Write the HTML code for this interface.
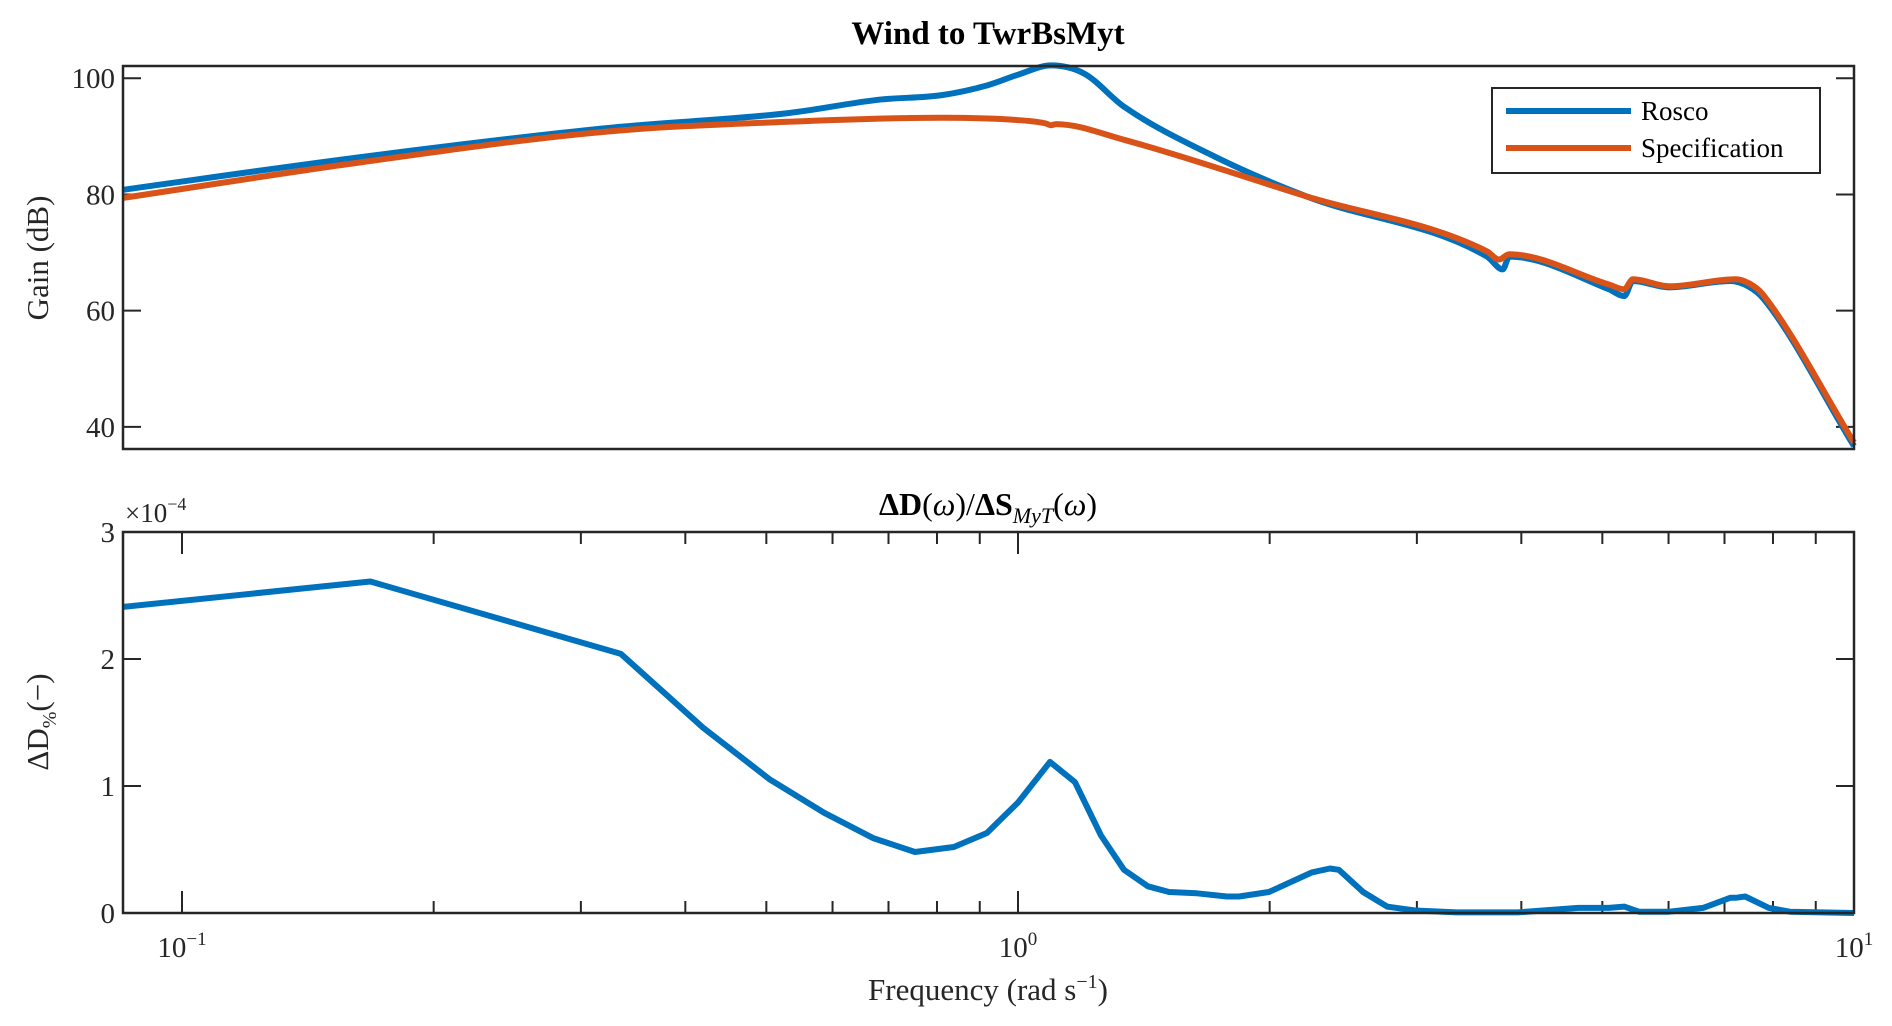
<!DOCTYPE html>
<html><head><meta charset="utf-8"><style>
html,body{margin:0;padding:0;background:#fff;}
svg{display:block;font-family:"Liberation Serif",serif;}
</style></head><body>
<svg id="fig" width="1892" height="1026" viewBox="0 0 1892 1026">
<rect width="1892" height="1026" fill="#fff"/>
<text x="988" y="44" text-anchor="middle" font-size="33" font-weight="bold" fill="#000">Wind to TwrBsMyt</text>
<text x="988" y="515" text-anchor="middle" font-size="32" fill="#000"><tspan font-weight="bold">ΔD</tspan>(<tspan font-style="italic">ω</tspan>)/<tspan font-weight="bold">ΔS</tspan><tspan font-style="italic" font-size="22" dy="8">MyT</tspan><tspan dy="-8">(</tspan><tspan font-style="italic">ω</tspan>)</text>
<text transform="translate(48,258) rotate(-90)" text-anchor="middle" font-size="31" fill="#262626">Gain (dB)</text>
<text transform="translate(48,722) rotate(-90)" text-anchor="middle" font-size="31" fill="#262626">ΔD<tspan font-size="20" dy="8">%</tspan><tspan dy="-8">(−)</tspan></text>
<text x="125" y="522" font-size="27" fill="#262626">×10<tspan font-size="18" dy="-12">−4</tspan></text>
<text x="988" y="1000" text-anchor="middle" font-size="31" fill="#262626">Frequency (rad s<tspan font-size="20" dy="-12">−1</tspan><tspan dy="12">)</tspan></text>
<g id="topax"></g><g id="botax"></g>
<g>
<rect x="1492" y="88" width="328" height="85" fill="#fff" stroke="#262626" stroke-width="2"/>
<line x1="1506" y1="111" x2="1631" y2="111" stroke="#0072BD" stroke-width="6"/>
<text x="1641" y="120" font-size="27" fill="#000">Rosco</text>
<line x1="1506" y1="148" x2="1631" y2="148" stroke="#D95319" stroke-width="6"/>
<text x="1641" y="157" font-size="27" fill="#000">Specification</text>
</g>
</svg>
<script>
const gainFreq=[0.085,0.165,0.321,0.531,0.682,0.811,0.92,1.0,1.095,1.2,1.339,1.72,2.21,3.64,3.8,3.87,5.09,5.31,5.44,6.01,7.11,7.47,7.8,10];
const roscoGain=[80.8,86.5,91.4,94.0,96.3,97.1,98.8,100.6,102.2,100.8,95.1,86.5,79.7,69.3,67.1,69.3,63.7,62.5,65.1,64.0,65.1,64.2,62.0,36.7];
const specFreq=[0.085,0.165,0.321,0.531,0.811,1.0,1.08,1.095,1.11,1.339,2.21,3.64,3.76,3.87,5.09,5.31,5.44,6.01,7.22,7.59,7.8,10];
const specGain=[79.4,85.6,90.8,92.5,93.2,92.8,92.2,91.9,92.1,89.4,79.7,70.2,68.8,69.7,64.5,63.7,65.4,64.2,65.4,64.2,62.6,37.3];
const dFreq=[0.085,0.168,0.335,0.42,0.505,0.586,0.671,0.753,0.838,0.918,1.0,1.092,1.17,1.257,1.339,1.43,1.516,1.637,1.778,1.838,1.996,2.247,2.361,2.42,2.587,2.764,2.985,3.35,3.96,4.68,5.09,5.31,5.53,6.01,6.6,7.11,7.22,7.41,7.91,8.38,10];
const dVal=[2.41,2.61,2.04,1.46,1.05,0.79,0.59,0.48,0.52,0.63,0.87,1.19,1.03,0.61,0.34,0.21,0.165,0.155,0.13,0.13,0.165,0.32,0.35,0.34,0.165,0.05,0.02,0.005,0.005,0.04,0.04,0.05,0.01,0.01,0.04,0.12,0.12,0.13,0.04,0.01,0.0];
const gainTicks=[40,60,80,100];
const dTicks=[0,1,2,3];
const NS='http://www.w3.org/2000/svg';
const L=123,R=1854,X0=1018,DEC=836;
function xs(f){return X0+Math.log10(f)*DEC;}
const T={top:66,bot:449,min:36.2,max:102.1};
function ysT(v){return T.bot-(v-T.min)/(T.max-T.min)*(T.bot-T.top);}
const B={top:532,bot:913};
function ysB(v){return B.bot-v/3*(B.bot-B.top);}
function el(tag,attrs,parent){const e=document.createElementNS(NS,tag);for(const k in attrs)e.setAttribute(k,attrs[k]);parent.appendChild(e);return e;}
const gTopAx=document.getElementById('topax'),gBotAx=document.getElementById('botax');
gainTicks.forEach(v=>{const y=ysT(v);
 const t=el('line',{x1:L,y1:y,x2:L+18,y2:y,stroke:'#262626','stroke-width':2},gTopAx);
 
 
 el('line',{x1:R,y1:y,x2:R-18,y2:y,stroke:'#262626','stroke-width':2},gTopAx);
 const tx=el('text',{x:L-8,y:y+10,'text-anchor':'end','font-size':29,fill:'#262626'},gTopAx);
 tx.textContent=v;
 
 
});
function line(fr,vals,ys,color,parent,name){
 const p=el('polyline',{points:fr.map((f,i)=>xs(f).toFixed(1)+','+ys(vals[i]).toFixed(1)).join(' '),fill:'none',stroke:color,'stroke-width':6,'stroke-linejoin':'round'},parent);
 
 
}
function smooth(fr,vals,ys,color,parent,name){
 const X=fr.map(xs),Y=vals.map(ys),n=X.length;
 const h=[],dl=[];for(let i=0;i<n-1;i++){h.push(X[i+1]-X[i]);dl.push((Y[i+1]-Y[i])/h[i]);}
 const m=new Array(n);m[0]=dl[0];m[n-1]=dl[n-2];
 for(let i=1;i<n-1;i++){m[i]=(dl[i-1]*dl[i]<=0)?0:(dl[i-1]+dl[i])/2;}
 for(let i=0;i<n-1;i++){if(dl[i]===0){m[i]=0;m[i+1]=0;continue;}
  const a=m[i]/dl[i],b=m[i+1]/dl[i],s=a*a+b*b;if(s>9){const t=3/Math.sqrt(s);m[i]=t*a*dl[i];m[i+1]=t*b*dl[i];}}
 let d='M'+X[0].toFixed(1)+','+Y[0].toFixed(1);
 for(let i=0;i<n-1;i++){
  d+=' C'+(X[i]+h[i]/3).toFixed(1)+','+(Y[i]+m[i]*h[i]/3).toFixed(1)+' '+(X[i+1]-h[i]/3).toFixed(1)+','+(Y[i+1]-m[i+1]*h[i]/3).toFixed(1)+' '+X[i+1].toFixed(1)+','+Y[i+1].toFixed(1);
 }
 const p=el('path',{d:d,fill:'none',stroke:color,'stroke-width':6,'stroke-linejoin':'round'},parent);
 
 
}
const cp=el('clipPath',{id:'ct'},gTopAx);el('rect',{x:L,y:T.top-4,width:R-L+4,height:T.bot-T.top+6},cp);
const gT=el('g',{'clip-path':'url(#ct)'},gTopAx);
smooth(gainFreq,roscoGain,ysT,'#0072BD',gT,'rosco-line');
smooth(specFreq,specGain,ysT,'#D95319',gT,'specification-line');
const fr1=el('rect',{x:L,y:T.top,width:R-L,height:T.bot-T.top,fill:'none',stroke:'#262626','stroke-width':2.5},gTopAx);


dTicks.forEach(v=>{const y=ysB(v);
 el('line',{x1:L,y1:y,x2:L+18,y2:y,stroke:'#262626','stroke-width':2},gBotAx);
 el('line',{x1:R,y1:y,x2:R-18,y2:y,stroke:'#262626','stroke-width':2},gBotAx);
 const tx=el('text',{x:L-8,y:y+10,'text-anchor':'end','font-size':29,fill:'#262626'},gBotAx);
 tx.textContent=v;
 
 
});
[-1,0].forEach(d=>{for(let m=1;m<10;m++){const f=m*Math.pow(10,d);const x=xs(f);if(x<L)continue;
 const len=m===1?22:12;
 el('line',{x1:x,y1:B.bot,x2:x,y2:B.bot-len,stroke:'#262626','stroke-width':2},gBotAx);
 el('line',{x1:x,y1:B.top,x2:x,y2:B.top+len,stroke:'#262626','stroke-width':2},gBotAx);}});
[[-1,'10','−1'],[0,'10','0'],[1,'10','1']].forEach(a=>{const x=xs(Math.pow(10,a[0]));
 const tx=el('text',{x:x,y:B.bot+44,'text-anchor':'middle','font-size':29,fill:'#262626'},gBotAx);
 tx.innerHTML=a[1]+'<tspan font-size="19" dy="-12">'+a[2]+'</tspan>';
 
 
});
line(dFreq,dVal,ysB,'#0072BD',gBotAx,'delta-d-line');
const fr2=el('rect',{x:L,y:B.top,width:R-L,height:B.bot-B.top,fill:'none',stroke:'#262626','stroke-width':2.5},gBotAx);


</script>
</body></html>
